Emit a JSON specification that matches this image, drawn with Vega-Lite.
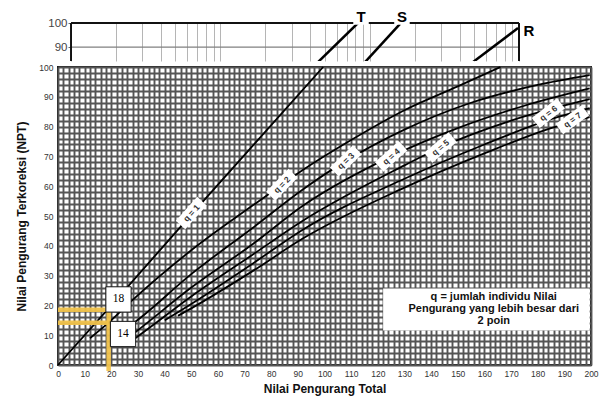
{
  "$schema": "https://vega.github.io/schema/vega-lite/v6.json",
  "background": "white",
  "padding": {"left": 14, "top": 9, "right": 5, "bottom": 2},
  "bounds": "flush",
  "spacing": 6,
  "config": {"font": "Liberation Sans", "view": {"stroke": null}},
  "datasets": {
    "topLines": [
      {"name": "T", "x": 45.1, "y": 83.75}, {"name": "T", "x": 83.5, "y": 100},
      {"name": "S", "x": 93.1, "y": 83.75}, {"name": "S", "x": 159.7, "y": 99.6},
      {"name": "R", "x": 492, "y": 83.75}, {"name": "R", "x": 985, "y": 97.9}
    ],
    "topFrame": [
      {"x": 1, "x2": 1, "y": 84.2, "y2": 100},
      {"x": 1000, "x2": 1000, "y": 84.2, "y2": 100},
      {"x": 1, "x2": 1000, "y": 100, "y2": 100}
    ],
    "topGrid": [{"x": 1, "x2": 1000, "y": 90, "y2": 90}],
    "topLetters": [
      {"name": "T", "x": 87.5, "y": 102.5},
      {"name": "S", "x": 164.5, "y": 102.5},
      {"name": "R", "x": 1167, "y": 96.7}
    ],
    "curves": [
      {"q": 1, "x": 0, "y": 0}, {"q": 1, "x": 18, "y": 18}, {"q": 1, "x": 55, "y": 55.5}, {"q": 1, "x": 99.5, "y": 100},
      {"q": 2, "x": 12, "y": 9}, {"q": 2, "x": 19, "y": 14.2}, {"q": 2, "x": 27, "y": 21}, {"q": 2, "x": 50, "y": 38.5}, {"q": 2, "x": 73, "y": 53.5}, {"q": 2, "x": 84, "y": 60.5}, {"q": 2, "x": 92, "y": 65.5}, {"q": 2, "x": 110, "y": 75.5}, {"q": 2, "x": 130, "y": 85.5}, {"q": 2, "x": 150, "y": 93.5}, {"q": 2, "x": 166, "y": 100},
      {"q": 3, "x": 21, "y": 9.5}, {"q": 3, "x": 29, "y": 14.5}, {"q": 3, "x": 50, "y": 30.5}, {"q": 3, "x": 73, "y": 46}, {"q": 3, "x": 92, "y": 59}, {"q": 3, "x": 108, "y": 68.5}, {"q": 3, "x": 130, "y": 79}, {"q": 3, "x": 155, "y": 88}, {"q": 3, "x": 180, "y": 94}, {"q": 3, "x": 199.5, "y": 97.3},
      {"q": 4, "x": 23, "y": 7}, {"q": 4, "x": 29, "y": 11}, {"q": 4, "x": 50, "y": 26}, {"q": 4, "x": 73, "y": 40.5}, {"q": 4, "x": 92, "y": 53.5}, {"q": 4, "x": 125, "y": 70}, {"q": 4, "x": 150, "y": 79.5}, {"q": 4, "x": 175, "y": 87}, {"q": 4, "x": 199.5, "y": 92.8},
      {"q": 5, "x": 25, "y": 6.5}, {"q": 5, "x": 29, "y": 9}, {"q": 5, "x": 50, "y": 23}, {"q": 5, "x": 73, "y": 37}, {"q": 5, "x": 92, "y": 48.5}, {"q": 5, "x": 130, "y": 67}, {"q": 5, "x": 143.5, "y": 73}, {"q": 5, "x": 170, "y": 82}, {"q": 5, "x": 199.5, "y": 89.2},
      {"q": 6, "x": 40, "y": 15}, {"q": 6, "x": 50, "y": 20.5}, {"q": 6, "x": 73, "y": 34}, {"q": 6, "x": 92, "y": 45.5}, {"q": 6, "x": 130, "y": 62.5}, {"q": 6, "x": 160, "y": 74}, {"q": 6, "x": 185, "y": 82.5}, {"q": 6, "x": 199.5, "y": 86.2},
      {"q": 7, "x": 45, "y": 16.5}, {"q": 7, "x": 50, "y": 19}, {"q": 7, "x": 73, "y": 31.5}, {"q": 7, "x": 92, "y": 42.5}, {"q": 7, "x": 130, "y": 59.5}, {"q": 7, "x": 160, "y": 71}, {"q": 7, "x": 185, "y": 79.5}, {"q": 7, "x": 199.5, "y": 83.2}
    ],
    "qLabels": [
      {"q": 1, "label": "q = 1", "x": 50, "y": 51},
      {"q": 2, "label": "q = 2", "x": 84, "y": 60.5},
      {"q": 3, "label": "q = 3", "x": 108, "y": 68.5},
      {"q": 4, "label": "q = 4", "x": 125, "y": 70},
      {"q": 5, "label": "q = 5", "x": 143.5, "y": 73},
      {"q": 6, "label": "q = 6", "x": 184, "y": 84.5},
      {"q": 7, "label": "q = 7", "x": 193, "y": 82.3}
    ],
    "guides": [
      {"x": 0, "x2": 19, "y": 18.5, "y2": 18.5},
      {"x": 0, "x2": 19, "y": 14.2, "y2": 14.2},
      {"x": 19, "x2": 19, "y": -2, "y2": 18.5}
    ],
    "readings": [
      {"label": "18", "x": 22.7, "y": 22},
      {"label": "14", "x": 24.4, "y": 10.4}
    ],
    "noteBox": [{"x": 122, "x2": 199.5, "y": 11.6, "y2": 25.7}],
    "noteText": [
      {"lines": ["q = jumlah individu Nilai", "Pengurang yang lebih besar dari", "2 poin"], "x": 163.5, "y": 22.8}
    ]
  },
  "vconcat": [
    {
      "width": 461,
      "height": 38,
      "encoding": {
        "x": {"field": "x", "type": "quantitative",
          "scale": {"type": "log", "domain": [0.818, 1000], "nice": false},
          "axis": {"values": [1,2,3,4,5,6,7,8,9,10,20,30,40,50,60,70,80,90,100,200,300,400,500,600,700,800,900,1000],
            "grid": true, "gridColor": "#b5b5b5", "gridWidth": 1, "labels": false, "ticks": false, "domain": false, "title": null}},
        "y": {"field": "y", "type": "quantitative",
          "scale": {"domain": [84.2, 100], "nice": false, "zero": false},
          "axis": {"values": [90, 100], "grid": false, "offset": -13, "domain": false, "ticks": true, "tickSize": 3, "tickColor": "#666",
            "labelFontSize": 11.5, "labelColor": "#444", "labelPadding": 1, "title": null}}
      },
      "layer": [
        {"data": {"name": "topGrid"}, "mark": {"type": "rule", "color": "#808080", "strokeWidth": 1.3},
          "encoding": {"x2": {"field": "x2"}, "y2": {"field": "y2"}}},
        {"data": {"name": "topFrame"}, "mark": {"type": "rule", "color": "#111", "strokeWidth": 2},
          "encoding": {"x2": {"field": "x2"}, "y2": {"field": "y2"}}},
        {"data": {"name": "topLines"}, "mark": {"type": "line", "color": "#000", "strokeWidth": 2.5, "clip": true},
          "encoding": {"detail": {"field": "name"}}},
        {"data": {"name": "topLetters"}, "mark": {"type": "square", "color": "white", "size": 240, "opacity": 1, "filled": true}},
        {"data": {"name": "topLetters"}, "mark": {"type": "text", "fontSize": 15, "fontWeight": "bold", "color": "#000", "baseline": "middle"},
          "encoding": {"text": {"field": "name"}}}
      ]
    },
    {
      "width": 533,
      "height": 298,
      "view": {"stroke": "#1a1a1a", "strokeWidth": 2},
      "encoding": {
        "x": {"field": "x", "type": "quantitative",
          "scale": {"domain": [0, 200], "nice": false},
          "axis": {"values": [0,2,4,6,8,10,12,14,16,18,20,22,24,26,28,30,32,34,36,38,40,42,44,46,48,50,52,54,56,58,60,62,64,66,68,70,72,74,76,78,80,82,84,86,88,90,92,94,96,98,100,102,104,106,108,110,112,114,116,118,120,122,124,126,128,130,132,134,136,138,140,142,144,146,148,150,152,154,156,158,160,162,164,166,168,170,172,174,176,178,180,182,184,186,188,190,192,194,196,198,200],
            "grid": true, "gridColor": "#555555", "gridWidth": 1.9, "ticks": false, "domain": false,
            "labelExpr": "datum.value % 10 === 0 ? datum.label : ''", "labelOverlap": false, "labelFlush": false,
            "labelFontSize": 8.5, "labelColor": "#333", "labelPadding": 4,
            "title": "Nilai Pengurang Total", "titleFontSize": 12, "titleFontWeight": "bold", "titleColor": "#111", "titlePadding": 6}},
        "y": {"field": "y", "type": "quantitative",
          "scale": {"domain": [0, 100], "nice": false},
          "axis": {"values": [0,2,4,6,8,10,12,14,16,18,20,22,24,26,28,30,32,34,36,38,40,42,44,46,48,50,52,54,56,58,60,62,64,66,68,70,72,74,76,78,80,82,84,86,88,90,92,94,96,98,100],
            "grid": true, "gridColor": "#555555", "gridWidth": 1.9, "ticks": false, "domain": false,
            "labelExpr": "datum.value % 10 === 0 ? datum.label : ''", "labelOverlap": false, "labelFlush": false,
            "labelFontSize": 8.5, "labelColor": "#333", "labelPadding": 5,
            "title": "Nilai Pengurang Terkoreksi (NPT)", "titleFontSize": 12, "titleFontWeight": "bold", "titleColor": "#111", "titlePadding": 10}}
      },
      "layer": [
        {"data": {"name": "curves"}, "mark": {"type": "line", "color": "#000", "strokeWidth": 1.8, "interpolate": "monotone"},
          "encoding": {"detail": {"field": "q"}}},
        {"data": {"name": "guides"}, "mark": {"type": "rule", "color": "#f0c24b", "strokeWidth": 4.5, "opacity": 0.95, "clip": false},
          "encoding": {"x2": {"field": "x2"}, "y2": {"field": "y2"}}},
        {"data": {"name": "noteBox"}, "mark": {"type": "rect", "color": "white", "opacity": 1},
          "encoding": {"x2": {"field": "x2"}, "y2": {"field": "y2"}}},
        {"data": {"name": "noteText"}, "mark": {"type": "text", "fontSize": 11, "lineHeight": 11.8, "fontWeight": "bold", "color": "#111", "align": "center", "baseline": "middle"},
          "encoding": {"text": {"field": "lines"}}},
        {"data": {"name": "qLabels"}, "mark": {"type": "point", "shape": "M-1,-0.4H1V0.4H-1Z", "size": 1024, "filled": true, "color": "white", "opacity": 1},
          "encoding": {"angle": {"field": "q", "type": "ordinal", "scale": {"domain": [1,2,3,4,5,6,7], "range": [-48,-36,-26,-22,-21,-17,-14]}, "legend": null}}},
        {"data": {"name": "qLabels"}, "mark": {"type": "text", "fontSize": 8.5, "fontWeight": "bold", "color": "#333", "align": "center", "baseline": "middle"},
          "encoding": {"text": {"field": "label"},
            "angle": {"field": "q", "type": "ordinal", "scale": {"domain": [1,2,3,4,5,6,7], "range": [-48,-36,-26,-22,-21,-17,-14]}, "legend": null}}},
        {"data": {"name": "readings"}, "mark": {"type": "square", "size": 640, "filled": true, "fill": "white", "stroke": "#111", "strokeWidth": 1, "opacity": 1}},
        {"data": {"name": "readings"}, "mark": {"type": "text", "font": "Liberation Serif", "fontSize": 11.5, "color": "#000", "align": "center", "baseline": "middle"},
          "encoding": {"text": {"field": "label"}}}
      ]
    }
  ]
}
